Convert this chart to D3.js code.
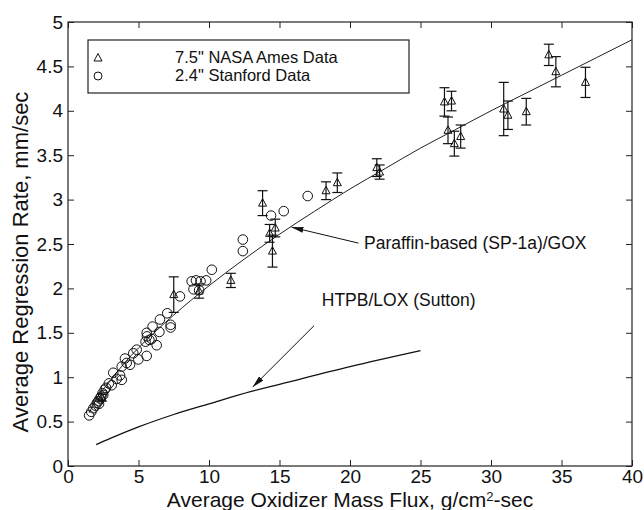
<!DOCTYPE html>
<html>
<head>
<meta charset="utf-8">
<title>Regression Rate vs Oxidizer Mass Flux</title>
<script src="https://cdn.jsdelivr.net/npm/d3@7"></script>
<style>
  body { margin: 0; background: #fff; }
  text { font-family: "Liberation Sans", Arial, sans-serif; fill: #111; }
</style>
</head>
<body>
<script>
// 7.5" NASA Ames data (flux, rate, error half-length)
var nasaFlux = [2.4, 7.5, 9.3, 11.55, 13.8, 14.3, 14.7, 14.5, 18.3, 19.1, 21.9, 22.1,
  26.7, 27.2, 26.95, 27.4, 27.85, 30.9, 31.2, 32.5, 34.1, 34.6, 36.7];
var nasaRate = [0.77, 1.93, 1.97, 2.09, 2.96, 2.62, 2.68, 2.42, 3.10, 3.19, 3.36, 3.31,
  4.10, 4.11, 3.78, 3.63, 3.71, 4.02, 3.95, 3.99, 4.63, 4.44, 4.32];
var nasaErr = [0.04, 0.2, 0.08, 0.08, 0.14, 0.1, 0.1, 0.18, 0.1, 0.11, 0.1, 0.08,
  0.16, 0.11, 0.15, 0.14, 0.13, 0.3, 0.16, 0.15, 0.12, 0.17, 0.17];

// 2.4" Stanford data
var stanFlux = [1.5, 1.65, 1.8, 1.95, 2.05, 2.15, 2.25, 2.35, 2.45, 2.2, 2.6, 2.7, 2.9,
  2.5, 3.1, 3.21, 3.45, 3.69, 3.81, 3.81, 4.04, 4.16, 4.4, 4.63, 4.87, 4.99, 5.58,
  5.5, 5.6, 5.58, 5.77, 5.93, 6.29, 6.0, 6.48, 6.52, 7.04, 7.28, 7.28,
  7.94, 8.77, 9.08, 9.4, 9.8, 8.9, 9.3, 10.2, 12.4, 12.4, 14.4, 15.3, 17.0];
var stanRate = [0.57, 0.61, 0.65, 0.68, 0.71, 0.73, 0.76, 0.78, 0.82, 0.70, 0.86, 0.88, 0.93,
  0.80, 0.91, 1.05, 0.98, 1.02, 1.12, 0.97, 1.21, 1.16, 1.14, 1.27, 1.31, 1.20, 1.24,
  1.40, 1.46, 1.50, 1.42, 1.43, 1.36, 1.57, 1.51, 1.65, 1.72, 1.59, 1.56,
  1.91, 2.08, 2.09, 2.08, 2.09, 1.99, 1.98, 2.21, 2.55, 2.42, 2.82, 2.87, 3.04];

// paraffin fit curve and HTPB/LOX curve
var fitFlux = [1.5, 2, 3, 4, 5, 7.5, 10, 12.5, 15, 17.5, 20, 22.5, 25, 27.5, 30, 32.5, 35, 37.5, 40];
var fitRate = [0.6, 0.75, 0.96, 1.16, 1.33, 1.70, 2.03, 2.33, 2.61, 2.87, 3.12, 3.35, 3.58, 3.79, 4.0, 4.2, 4.4, 4.6, 4.8];
var htpbFlux = [2, 3, 5, 7.5, 10, 13, 15, 20, 25];
var htpbRate = [0.24, 0.31, 0.44, 0.58, 0.70, 0.84, 0.92, 1.12, 1.30];

var xTicks = [0, 5, 10, 15, 20, 25, 30, 35, 40];
var yTicks = [0, 0.5, 1, 1.5, 2, 2.5, 3, 3.5, 4, 4.5, 5];
var legendLabels = ['7.5" NASA Ames Data', '2.4" Stanford Data'];

var width = 644, height = 510;
var margin = { top: 22, right: 12, bottom: 44, left: 68 };

var svg = d3.select("body").append("svg").attr("width", width).attr("height", height);

var x = d3.scaleLinear().domain([0, 40]).range([margin.left, width - margin.right]);
var y = d3.scaleLinear().domain([0, 5]).range([height - margin.bottom, margin.top]);

// axes, MATLAB style ticks pointing inward
var gx = svg.append("g").attr("transform", "translate(0," + y(0) + ")")
  .call(d3.axisBottom(x).tickValues(xTicks).tickFormat(d3.format("d")).tickSizeInner(-6).tickSizeOuter(0).tickPadding(3));
var gy = svg.append("g").attr("transform", "translate(" + x(0) + ",0)")
  .call(d3.axisLeft(y).tickValues(yTicks).tickFormat(function(d) { return String(d); }).tickSizeInner(-6).tickSizeOuter(0).tickPadding(5));
var gt = svg.append("g").attr("transform", "translate(0," + y(5) + ")")
  .call(d3.axisTop(x).tickValues(xTicks).tickFormat("").tickSizeInner(-6).tickSizeOuter(0));
var gr = svg.append("g").attr("transform", "translate(" + x(40) + ",0)")
  .call(d3.axisRight(y).tickValues(yTicks).tickFormat("").tickSizeInner(-6).tickSizeOuter(0));
[gx, gy, gt, gr].forEach(function(g) {
  g.select(".domain").remove();
  g.selectAll(".tick line").attr("stroke", "#222");
  g.selectAll("text").attr("font-size", "19px").attr("fill", "#111")
    .style("font-family", '"Liberation Sans", Arial, sans-serif');
});

svg.append("rect")
  .attr("x", x(0)).attr("y", y(5))
  .attr("width", x(40) - x(0)).attr("height", y(0) - y(5))
  .attr("fill", "none").attr("stroke", "#222").attr("stroke-width", 1.2);

// axis labels
var xl = svg.append("text")
  .attr("x", (x(0) + x(40)) / 2).attr("y", 507)
  .attr("text-anchor", "middle").attr("font-size", "21px");
xl.append("tspan").text("Average Oxidizer Mass Flux, g/cm");
xl.append("tspan").attr("dy", -6).attr("font-size", "13px").text("2");
xl.append("tspan").attr("dy", 6).text("-sec");

svg.append("text")
  .attr("transform", "translate(28,262) rotate(-90)")
  .attr("text-anchor", "middle").attr("font-size", "22px")
  .text("Average Regression Rate, mm/sec");

// fitted lines
var line = d3.line().x(function(d) { return x(d[0]); }).y(function(d) { return y(d[1]); })
  .curve(d3.curveMonotoneX);
svg.append("path")
  .datum(d3.zip(fitFlux, fitRate))
  .attr("fill", "none").attr("stroke", "#222").attr("stroke-width", 1)
  .attr("d", line);
svg.append("path")
  .datum(d3.zip(htpbFlux, htpbRate))
  .attr("fill", "none").attr("stroke", "#111").attr("stroke-width", 1.3)
  .attr("d", line);

// error bars and triangles
var nasa = d3.zip(nasaFlux, nasaRate, nasaErr);
var eb = svg.append("g").attr("stroke", "#111").attr("stroke-width", 1.2).attr("fill", "none");
eb.selectAll(".v").data(nasa).enter().append("line")
  .attr("x1", function(d) { return x(d[0]); }).attr("x2", function(d) { return x(d[0]); })
  .attr("y1", function(d) { return y(d[1] - d[2]); }).attr("y2", function(d) { return y(d[1] + d[2]); });
[-1, 1].forEach(function(s) {
  eb.selectAll(".c" + s).data(nasa).enter().append("line")
    .attr("x1", function(d) { return x(d[0]) - 5; }).attr("x2", function(d) { return x(d[0]) + 5; })
    .attr("y1", function(d) { return y(d[1] + s * d[2]); }).attr("y2", function(d) { return y(d[1] + s * d[2]); });
});

function tri(cx, cy) {
  return "M" + cx + "," + (cy - 4.5) + "L" + (cx + 4) + "," + (cy + 3) + "L" + (cx - 4) + "," + (cy + 3) + "Z";
}
svg.append("g").selectAll("path").data(nasa).enter().append("path")
  .attr("d", function(d) { return tri(x(d[0]), y(d[1])); })
  .attr("fill", "none").attr("stroke", "#111").attr("stroke-width", 1);

svg.append("g").selectAll("circle").data(d3.zip(stanFlux, stanRate)).enter().append("circle")
  .attr("cx", function(d) { return x(d[0]); }).attr("cy", function(d) { return y(d[1]); })
  .attr("r", 4.8).attr("fill", "none").attr("stroke", "#111").attr("stroke-width", 1);

// legend
svg.append("rect").attr("x", 88).attr("y", 40).attr("width", 321).attr("height", 53)
  .attr("fill", "#fff").attr("stroke", "#222").attr("stroke-width", 1.2);
svg.append("path").attr("d", tri(98, 58)).attr("fill", "none").attr("stroke", "#111");
svg.append("circle").attr("cx", 98).attr("cy", 76).attr("r", 4).attr("fill", "none").attr("stroke", "#111");
svg.selectAll(".leg").data(legendLabels).enter().append("text")
  .attr("x", 175).attr("y", function(d, i) { return 57 + i * 18; }).attr("dy", "0.35em")
  .attr("font-size", "16.5px").text(function(d) { return d; });

// annotations with arrows
svg.append("defs").append("marker")
  .attr("id", "arr").attr("viewBox", "0 0 12 6").attr("refX", 12).attr("refY", 3)
  .attr("markerWidth", 12).attr("markerHeight", 6).attr("markerUnits", "userSpaceOnUse")
  .attr("orient", "auto")
  .append("path").attr("d", "M0,0L12,3L0,6Z").attr("fill", "#111");

var notes = [
  { text: "Paraffin-based (SP-1a)/GOX", tx: 21.0, ty: 2.51, from: [20.6, 2.51], to: [15.85, 2.69] },
  { text: "HTPB/LOX (Sutton)", tx: 18.0, ty: 1.87, from: [17.45, 1.58], to: [13.1, 0.89] }
];
notes.forEach(function(n) {
  svg.append("line")
    .attr("x1", x(n.from[0])).attr("y1", y(n.from[1]))
    .attr("x2", x(n.to[0])).attr("y2", y(n.to[1]))
    .attr("stroke", "#111").attr("stroke-width", 1).attr("marker-end", "url(#arr)");
  svg.append("text").attr("x", x(n.tx)).attr("y", y(n.ty)).attr("dy", "0.35em")
    .attr("font-size", "17.5px").text(n.text);
});
</script>
</body>
</html>
